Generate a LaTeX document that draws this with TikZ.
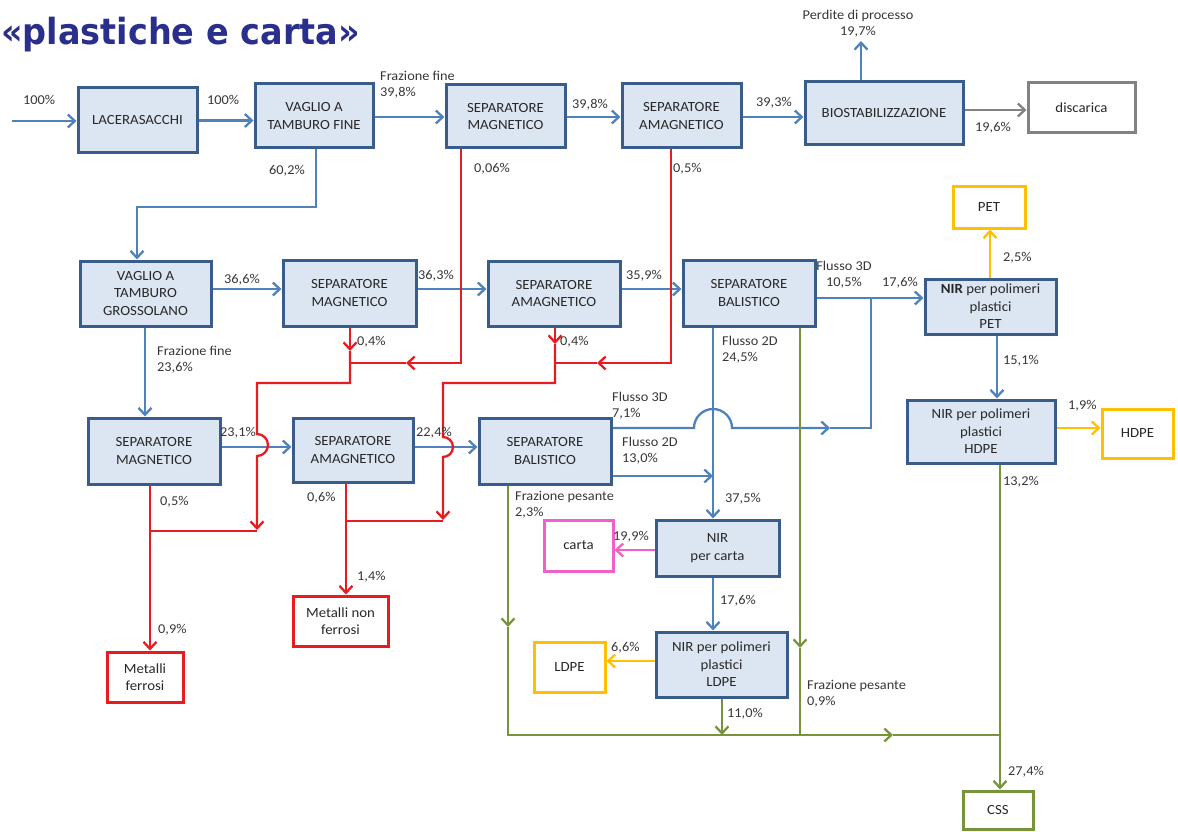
\documentclass[tikz,border=0pt]{standalone}
\usepackage{fontspec}
\setmainfont{Carlito}[FakeStretch=1.06]
\newfontfamily\headfont{DejaVu Sans}[FakeStretch=0.93]
\usetikzlibrary{arrows.meta}

\definecolor{boxfill}{RGB}{220,230,242}
\definecolor{boxline}{RGB}{56,93,138}
\definecolor{boxtext}{RGB}{40,40,40}
\definecolor{lbltext}{RGB}{55,55,55}
\definecolor{flowblue}{RGB}{79,129,189}
\definecolor{metal}{RGB}{232,28,32}
\definecolor{ylw}{RGB}{255,192,0}
\definecolor{paper}{RGB}{240,96,200}
\definecolor{rdf}{RGB}{119,147,60}
\definecolor{lossgray}{RGB}{130,130,130}
\definecolor{titleblue}{RGB}{42,46,140}

\pgfdeclarelayer{bg}
\pgfsetlayers{bg,main}

\begin{document}
\begin{tikzpicture}[x=1pt,y=-1pt,
  >={Straight Barb[length=7pt,width=13pt]},
  box/.style={draw=boxline, fill=boxfill, line width=3pt, align=center,
    text=boxtext, font=\fontsize{14}{17.5}\selectfont, inner sep=0pt},
  outbox/.style={draw=#1, fill=white, line width=3pt, align=center,
    text=boxtext, font=\fontsize{14}{17.5}\selectfont, inner sep=0pt},
  lbl/.style={anchor=west, inner sep=0pt, align=left, text=lbltext,
    font=\fontsize{13.5}{16}\selectfont},
  clbl/.style={lbl, anchor=center, align=center},
  bflow/.style={draw=flowblue, line width=2.3pt},
  rflow/.style={draw=metal, line width=2.3pt},
  yflow/.style={draw=ylw, line width=2.3pt},
  pflow/.style={draw=paper, line width=2.3pt},
  gflow/.style={draw=rdf, line width=2.3pt},
  kflow/.style={draw=lossgray, line width=2.3pt}]

\useasboundingbox (0,0) rectangle (1178,832);

% title
\node[anchor=base west, inner sep=0pt, text=titleblue,
  font=\headfont\bfseries\fontsize{36}{40}\selectfont] (title) at (1,45) {«plastiche e carta»};

% process units
\node[box, minimum width=119pt, minimum height=65pt] (lacera) at (137.5,120.5) {LACERASACCHI};
\node[box, minimum width=118pt, minimum height=64pt] (vfine) at (314,116) {VAGLIO A\\TAMBURO FINE};
\node[box, minimum width=119pt, minimum height=63pt] (smagA) at (505.5,116.5) {SEPARATORE\\MAGNETICO};
\node[box, minimum width=119pt, minimum height=64pt] (samagA) at (681.5,116) {SEPARATORE\\AMAGNETICO};
\node[box, minimum width=158pt, minimum height=63pt] (bio) at (884,113.5) {BIOSTABILIZZAZIONE};
\node[box, minimum width=131pt, minimum height=65pt] (vgros) at (145.5,293.5) {VAGLIO A\\TAMBURO\\GROSSOLANO};
\node[box, minimum width=133pt, minimum height=66pt] (smagB) at (349.5,293) {SEPARATORE\\MAGNETICO};
\node[box, minimum width=132pt, minimum height=65pt] (samagB) at (554,293.5) {SEPARATORE\\AMAGNETICO};
\node[box, minimum width=132pt, minimum height=66pt] (balB) at (749,293) {SEPARATORE\\BALISTICO};
\node[box, minimum width=132pt, minimum height=66pt] (smagC) at (154,451) {SEPARATORE\\MAGNETICO};
\node[box, minimum width=120pt, minimum height=64pt] (samagC) at (353,450) {SEPARATORE\\AMAGNETICO};
\node[box, minimum width=132pt, minimum height=66pt] (balC) at (545,451) {SEPARATORE\\BALISTICO};
\node[box, minimum width=131pt, minimum height=55pt] (nirpet) at (990.5,306.5) {\textbf{NIR} per polimeri\\plastici\\PET};
\node[box, minimum width=148pt, minimum height=63pt] (nirhdpe) at (981,431.5) {NIR per polimeri\\plastici\\HDPE};
\node[box, minimum width=123pt, minimum height=56pt] (nircarta) at (717.5,548) {NIR\\per carta};
\node[box, minimum width=131pt, minimum height=65pt] (nirldpe) at (721.5,664.5) {NIR per polimeri\\plastici\\LDPE};

% output streams
\node[outbox=lossgray, minimum width=107pt, minimum height=50pt] (disc) at (1081.5,108) {discarica};
\node[outbox=ylw, minimum width=72pt, minimum height=42pt] (pet) at (989,207) {PET};
\node[outbox=ylw, minimum width=71pt, minimum height=49pt] (hdpe) at (1137.5,433.5) {HDPE};
\node[outbox=ylw, minimum width=71pt, minimum height=50pt] (ldpe) at (569.5,667) {LDPE};
\node[outbox=paper, minimum width=69pt, minimum height=51pt] (carta) at (578.5,545.5) {carta};
\node[outbox=metal, minimum width=76pt, minimum height=50pt] (mfer) at (145,677) {Metalli\\ferrosi};
\node[outbox=metal, minimum width=95pt, minimum height=50pt] (mnf) at (340.5,621) {Metalli non\\ferrosi};
\node[outbox=rdf, minimum width=70pt, minimum height=38pt] (css) at (998,810) {CSS};

\coordinate (feed) at (12,121);
\coordinate (loss) at (861,41);
\coordinate (j3d) at (871,298);

\begin{pgfonlayer}{bg}
% main line
\draw[bflow,->] (feed) -- (feed -| lacera.west);
\draw[bflow,->] (lacera.east) -- (lacera.east -| vfine.west);
\draw[bflow,->] (vfine.east |- 0,117) -- (smagA.west |- 0,117);
\draw[bflow,->] (smagA.east |- 0,117) -- (samagA.west |- 0,117);
\draw[bflow,->] (samagA.east |- 0,117) -- (bio.west |- 0,117);
\draw[bflow,->] (bio.north -| loss) -- (loss);
\draw[kflow,->] (bio.east |- 0,110) -- (disc.west |- 0,110);

% coarse screen line
\draw[bflow,->] (vfine.south -| 316,0) -- (316,207) -- (137,207) -- (vgros.north -| 137,0);
\draw[bflow,->] (vgros.east |- 0,289) -- (smagB.west |- 0,289);
\draw[bflow,->] (smagB.east |- 0,289) -- (samagB.west |- 0,289);
\draw[bflow,->] (samagB.east |- 0,289) -- (balB.west |- 0,289);
\draw[bflow,->] (balB.east |- 0,298) -- (nirpet.west |- 0,298);
\draw[bflow,->] (balB.south -| 713,0) -- (nircarta.north -| 713,0);

% fine fraction line
\draw[bflow,->] (vgros.south -| 145,0) -- (smagC.north -| 145,0);
\draw[bflow,->] (smagC.east |- 0,447) -- (samagC.west |- 0,447);
\draw[bflow,->] (samagC.east |- 0,447) -- (balC.west |- 0,447);
\draw[bflow,->] (balC.east |- 0,428) -- (694,428) arc[start angle=180,end angle=0,radius=19pt] -- (830,428);
\draw[bflow] (830,428) -- (871,428) -- (j3d);
\draw[bflow,->] (balC.east |- 0,476) -- (713,476);

% NIR sorting
\draw[bflow,->] (nirpet.south -| 997,0) -- (nirhdpe.north -| 997,0);
\draw[bflow,->] (nircarta.south -| 713,0) -- (nirldpe.north -| 713,0);
\draw[yflow,->] (nirpet.north -| 990,0) -- (pet.south -| 990,0);
\draw[yflow,->] (nirhdpe.east |- 0,428) -- (hdpe.west |- 0,428);
\draw[yflow,->] (nirldpe.west |- 0,661) -- (ldpe.east |- 0,661);
\draw[pflow,->] (nircarta.west |- 0,550) -- (carta.east |- 0,550);

% ferrous metals
\draw[rflow,->] (smagA.south -| 461,0) -- (461,363) -- (406,363);
\draw[rflow] (406,363) -- (350,363);
\draw[rflow,->] (smagB.south -| 350,0) -- (350,351);
\draw[rflow,->] (350,351) -- (350,383) -- (257,383) -- (257,434)
  arc[start angle=90,end angle=-90,radius=11pt] -- (257,530);
\draw[rflow] (257,531) -- (150,531);
\draw[rflow,->] (smagC.south -| 150,0) -- (mfer.north -| 150,0);

% non-ferrous metals
\draw[rflow,->] (samagA.south -| 671,0) -- (671,363) -- (597,363);
\draw[rflow] (597,363) -- (555,363);
\draw[rflow,->] (samagB.south -| 555,0) -- (555,344);
\draw[rflow,->] (555,344) -- (555,383) -- (443,383) -- (443,437)
  arc[start angle=90,end angle=-90,radius=10pt] -- (443,520);
\draw[rflow] (443,521) -- (346,521);
\draw[rflow,->] (samagC.south -| 346,0) -- (mnf.north -| 346,0);

% residues to CSS
\draw[gflow,->] (balC.south -| 508,0) -- (508,627);
\draw[gflow,->] (508,627) -- (508,735) -- (893,735);
\draw[gflow] (893,735) -- (1000,735);
\draw[gflow,->] (balB.south -| 800,0) -- (800,648);
\draw[gflow] (800,648) -- (800,735);
\draw[gflow,->] (nirldpe.south -| 722,0) -- (722,735);
\draw[gflow,->] (nirhdpe.south -| 1000,0) -- (css.north -| 1000,0);
\end{pgfonlayer}

% flow labels
\node[lbl] (l1) at (23,100) {100\%};
\node[lbl] (l2) at (207,100) {100\%};
\node[lbl] (l3) at (380,85) {Frazione fine\\39,8\%};
\node[lbl] (l4) at (572,105) {39,8\%};
\node[lbl] (l5) at (756,103) {39,3\%};
\node[clbl] (l6) at (858,24) {Perdite di processo\\19,7\%};
\node[lbl] (l7) at (975,128) {19,6\%};
\node[lbl] (l8) at (269,171) {60,2\%};
\node[lbl] (l9) at (474,169) {0,06\%};
\node[lbl] (l10) at (673,169) {0,5\%};
\node[lbl] (l11) at (224,280) {36,6\%};
\node[lbl] (l12) at (418,276) {36,3\%};
\node[lbl] (l13) at (626,276) {35,9\%};
\node[clbl] (l14) at (844,275) {Flusso 3D\\10,5\%};
\node[lbl] (l15) at (882,283) {17,6\%};
\node[lbl] (l16) at (1003,258) {2,5\%};
\node[lbl] (l17) at (1003,361) {15,1\%};
\node[lbl] (l18) at (1068,406) {1,9\%};
\node[lbl] (l19) at (1003,482) {13,2\%};
\node[lbl] (l20) at (722,350) {Flusso 2D\\24,5\%};
\node[lbl] (l21) at (357,342) {0,4\%};
\node[lbl] (l22) at (560,342) {0,4\%};
\node[lbl] (l23) at (157,360) {Frazione fine\\23,6\%};
\node[lbl] (l24) at (220,433) {23,1\%};
\node[lbl] (l25) at (416,433) {22,4\%};
\node[lbl] (l26) at (612,406) {Flusso 3D\\7,1\%};
\node[lbl] (l27) at (622,451) {Flusso 2D\\13,0\%};
\node[lbl] (l28) at (160,502) {0,5\%};
\node[lbl] (l29) at (307,498) {0,6\%};
\node[lbl] (l30) at (515,505) {Frazione pesante\\2,3\%};
\node[lbl] (l31) at (725,499) {37,5\%};
\node[lbl] (l32) at (613,537) {19,9\%};
\node[lbl] (l33) at (357,577) {1,4\%};
\node[lbl] (l34) at (720,601) {17,6\%};
\node[lbl] (l35) at (158,630) {0,9\%};
\node[lbl] (l36) at (611,648) {6,6\%};
\node[lbl] (l37) at (807,694) {Frazione pesante\\0,9\%};
\node[lbl] (l38) at (727,714) {11,0\%};
\node[lbl] (l39) at (1008,772) {27,4\%};
\end{tikzpicture}
\end{document}
